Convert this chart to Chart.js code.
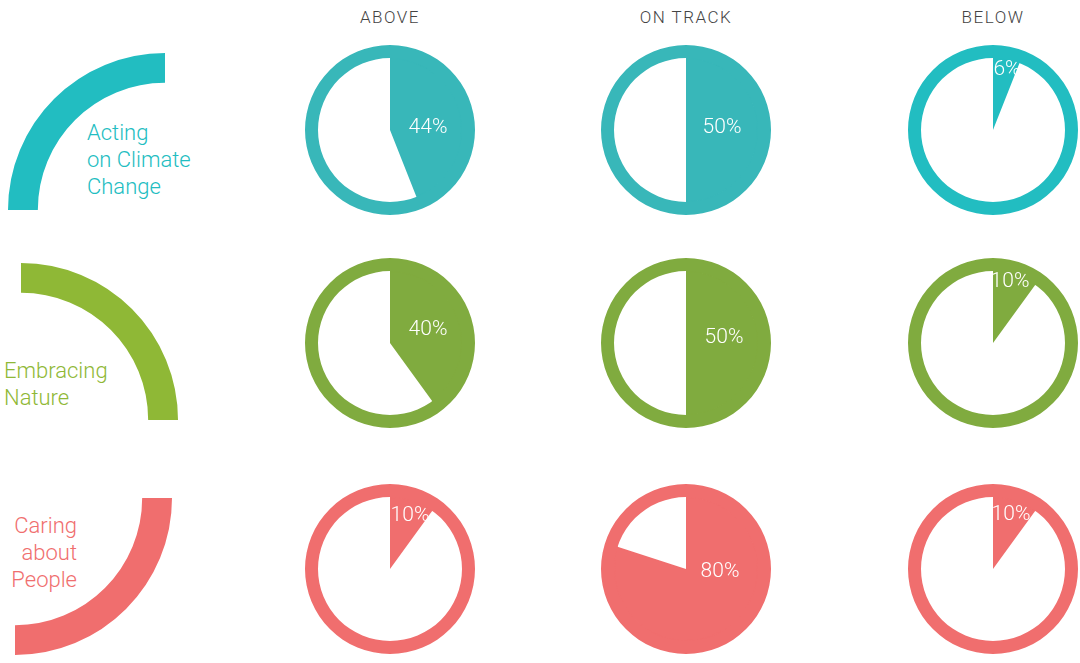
<!DOCTYPE html>
<html>
<head>
<meta charset="utf-8">
<script src="https://cdn.jsdelivr.net/npm/chart.js@4.4.1/dist/chart.umd.min.js"></script>
<style>
  html, body { margin: 0; padding: 0; background: #fff; }
  #wrap { position: relative; width: 1080px; height: 663px; overflow: hidden; font-family: Roboto, "DejaVu Sans", sans-serif; }
  canvas { position: absolute; }
  .head { position: absolute; top: 7px; width: 200px; margin-left: -100px; text-align: center;
          font-size: 17px; letter-spacing: 1.5px; color: #444; font-weight: 300; }
  .theme { position: absolute; font-size: 22px; line-height: 27px; white-space: pre; font-weight: 300; }
</style>
</head>
<body>
<div id="wrap"></div>
<script>
// column headers and row themes
const columns = ['ABOVE', 'ON TRACK', 'BELOW'];
const themes = ['Acting\non Climate\nChange', 'Embracing\nNature', 'Caring\nabout\nPeople'];

// share of each theme in each column (%)
const aboveValues   = [44, 40, 10];
const onTrackValues = [50, 50, 80];
const belowValues   = [6, 10, 10];

const values = [aboveValues, onTrackValues, belowValues];

// colours per row, per column
const pieColors = [
  ['#38b7b9', '#38b7b9', '#22bdc1'],
  ['#80ab3f', '#80ab3f', '#80ab3f'],
  ['#f06e6e', '#f06e6e', '#f06e6e']
];
const arcColors = ['#22bdc1', '#8fb836', '#f06e6e'];

// layout
const colX = [390, 686, 993];
const rowY = [130, 343, 569];
const R = 85;
// label offsets from pie centre [row][col]
const labelOffsets = [
  [[38, -2], [36, -2], [14, -60]],
  [[38, -13], [38, -5], [17, -61]],
  [[20, -53], [34, 3], [18, -54]]
];
// decorative quarter arcs: canvas left, top, rotation
const arcBoxes = [
  { left: 8,  top: 53,  rot: -90 },
  { left: 21, top: 263, rot: 0 },
  { left: 15, top: 498, rot: 90 }
];
const themeBoxes = [
  { left: 87, top: 119, align: 'left' },
  { left: 4,  top: 357, align: 'left' },
  { left: -123, top: 512, align: 'right' }
];

const wrap = document.getElementById('wrap');

columns.forEach((c, i) => {
  const d = document.createElement('div');
  d.className = 'head';
  d.style.left = colX[i] + 'px';
  d.textContent = c;
  wrap.appendChild(d);
});

themes.forEach((t, r) => {
  const d = document.createElement('div');
  d.className = 'theme';
  d.style.left = themeBoxes[r].left + 'px';
  d.style.top = themeBoxes[r].top + 'px';
  d.style.color = arcColors[r];
  d.style.textAlign = themeBoxes[r].align;
  if (themeBoxes[r].align === 'right') d.style.width = '200px';
  d.textContent = t;
  wrap.appendChild(d);
});

function makeCanvas(left, top, w, h) {
  const cv = document.createElement('canvas');
  cv.width = w; cv.height = h;
  cv.style.left = left + 'px';
  cv.style.top = top + 'px';
  cv.style.width = w + 'px';
  cv.style.height = h + 'px';
  wrap.appendChild(cv);
  return cv;
}

const pctLabels = {
  id: 'pctLabels',
  afterDatasetsDraw(chart, args, opts) {
    const arc = chart.getDatasetMeta(1).data[0];
    const ctx = chart.ctx;
    ctx.save();
    ctx.fillStyle = '#fff';
    ctx.font = '300 21px Roboto, "DejaVu Sans", sans-serif';
    ctx.textAlign = 'center';
    ctx.textBaseline = 'middle';
    ctx.fillText(opts.text, arc.x + opts.dx, arc.y + opts.dy);
    ctx.restore();
  }
};

// left quarter arcs
arcBoxes.forEach((b, r) => {
  const cv = makeCanvas(b.left, b.top, 157, 157);
  new Chart(cv, {
    type: 'doughnut',
    data: { labels: [themes[r]], datasets: [{ data: [1], backgroundColor: [arcColors[r]], borderWidth: 0 }] },
    options: {
      responsive: false, animation: false,
      rotation: b.rot, circumference: 90, cutout: '81%',
      layout: { padding: 0 },
      plugins: { legend: { display: false }, tooltip: { enabled: false } }
    }
  });
});

// pies
for (let r = 0; r < 3; r++) {
  for (let c = 0; c < 3; c++) {
    const v = values[c][r];
    const col = pieColors[r][c];
    const cv = makeCanvas(colX[c] - R, rowY[r] - R, 2 * R, 2 * R);
    new Chart(cv, {
      type: 'pie',
      data: {
        labels: [columns[c], ''],
        datasets: [
          { data: [100], backgroundColor: [col], borderWidth: 0, weight: 13 },
          { data: [v, 100 - v], backgroundColor: [col, '#ffffff'],
            borderColor: [col, '#ffffff'], borderWidth: [2, 0], weight: 72 }
        ]
      },
      options: {
        responsive: false, animation: false,
        layout: { padding: 0 },
        plugins: {
          legend: { display: false }, tooltip: { enabled: false },
          pctLabels: { text: v + '%', dx: labelOffsets[r][c][0], dy: labelOffsets[r][c][1] }
        }
      },
      plugins: [pctLabels]
    });
  }
}
</script>
</body>
</html>
